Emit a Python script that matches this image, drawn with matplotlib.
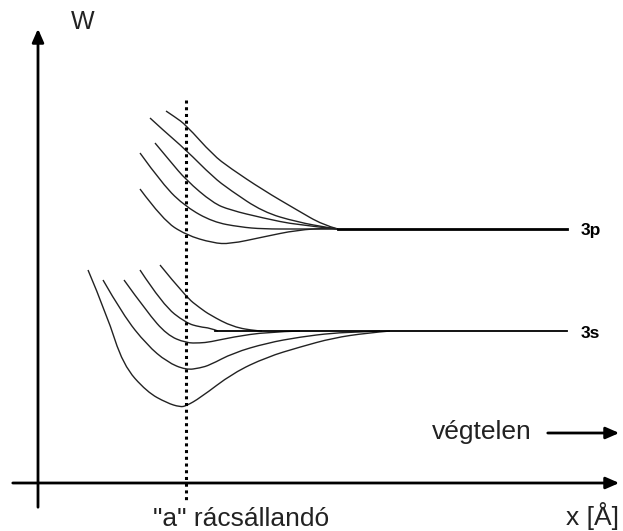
import matplotlib
matplotlib.use("Agg")
import matplotlib.pyplot as plt
from matplotlib.path import Path
from matplotlib.patches import PathPatch

plt.rcParams['font.family'] = ['Liberation Sans', 'DejaVu Sans']

# Schematic energy curves (x in drawing units, W in drawing units, W axis pointing up = smaller value)
p_curves_x = [
    [166, 175, 186, 213, 230, 263, 297, 323, 338],
    [150, 163, 186, 213, 230, 263, 297, 330, 338],
    [155, 170, 186, 213, 230, 263, 297, 338],
    [140, 163, 186, 213, 240, 263, 297, 338],
    [140, 163, 186, 213, 230, 263, 297, 330, 338],
]
p_curves_w = [
    [111, 117, 125, 155, 168, 190, 210, 225, 229],
    [118, 130, 150, 177, 190, 212, 222, 228, 229],
    [143, 161, 180, 203, 210, 218, 225, 229],
    [153, 185, 207, 222, 227, 229, 229, 229],
    [189, 220, 235, 243, 244, 237, 230, 228, 229],
]
p_level_x = [338, 567]
p_level_w = [229, 229]

s_curves_x = [
    [160, 186, 200, 210, 233, 257, 262],
    [140, 163, 186, 200, 210, 218],
    [124, 147, 167, 186, 200, 210, 233, 267, 300],
    [103, 123, 147, 167, 186, 200, 210, 233, 267, 300, 333, 360, 380],
    [88, 107, 123, 147, 167, 180, 186, 200, 233, 267, 300, 333, 367, 390],
]
s_curves_w = [
    [265, 297, 308, 315, 327, 331, 331],
    [270, 305, 323, 327, 328, 331],
    [280, 312, 335, 343, 343, 342, 337, 332, 331],
    [280, 315, 345, 362, 370, 368, 365, 353, 343, 337, 333, 332, 331],
    [270, 315, 365, 392, 403, 407, 406, 398, 373, 357, 347, 338, 333, 331],
]
s_level_x = [215, 567]
s_level_w = [331, 331]

lattice_x = 186
level_labels = ["3p", "3s"]

fig = plt.figure(figsize=(6.23, 5.31), dpi=100)
ax = fig.add_axes([0, 0, 1, 1])
ax.set_xlim(0, 623)
ax.set_ylim(531, 0)
ax.axis('off')


def smooth_curve(xs, ws, **kw):
    pts = list(zip(xs, ws))
    verts = [pts[0]]
    codes = [Path.MOVETO]
    if len(pts) > 2:
        for i in range(1, len(pts) - 1):
            ctrl = pts[i]
            if i < len(pts) - 2:
                end = ((pts[i][0] + pts[i + 1][0]) / 2, (pts[i][1] + pts[i + 1][1]) / 2)
            else:
                end = pts[i + 1]
            verts += [ctrl, end]
            codes += [Path.CURVE3, Path.CURVE3]
    else:
        verts.append(pts[1])
        codes.append(Path.LINETO)
    ax.add_patch(PathPatch(Path(verts, codes), fill=False, **kw))


for xs, ws in zip(p_curves_x, p_curves_w):
    smooth_curve(xs, ws, edgecolor='#222222', lw=1.0)
ax.plot(p_level_x, p_level_w, color='black', lw=2.0)
for xs, ws in zip(s_curves_x, s_curves_w):
    smooth_curve(xs, ws, edgecolor='#222222', lw=1.0)
ax.plot(s_level_x, s_level_w, color='black', lw=1.3)

ax.text(581, 230, level_labels[0], fontsize=12.5, fontweight='bold', va='center', ha='left')
ax.text(581, 333, level_labels[1], fontsize=12.5, fontweight='bold', va='center', ha='left')

# dotted lattice constant line
ax.plot([lattice_x, lattice_x], [100, 500], color='black', lw=2.2, linestyle=(0, (1, 1.2)))

# axes arrows
ax.annotate('', xy=(38, 26), xytext=(38, 510),
            arrowprops=dict(arrowstyle='-|>,head_length=0.8,head_width=0.35', color='black', lw=2))
ax.annotate('', xy=(622, 483), xytext=(10, 483),
            arrowprops=dict(arrowstyle='-|>,head_length=0.8,head_width=0.35', color='black', lw=2))
ax.annotate('', xy=(622, 433), xytext=(545, 433),
            arrowprops=dict(arrowstyle='-|>,head_length=0.8,head_width=0.35', color='black', lw=2))

ax.text(83, 22, "W", fontsize=18, ha='center', va='center', color='#222222')
ax.text(482, 432, "végtelen", fontsize=19, ha='center', va='center', color='#222222')
ax.text(593, 516, "x [Å]", fontsize=19, ha='center', va='center', color='#222222')
ax.text(241, 519, "\"a\" rácsállandó", fontsize=19, ha='center', va='center', color='#222222')

fig.savefig("out.png", dpi=100)
